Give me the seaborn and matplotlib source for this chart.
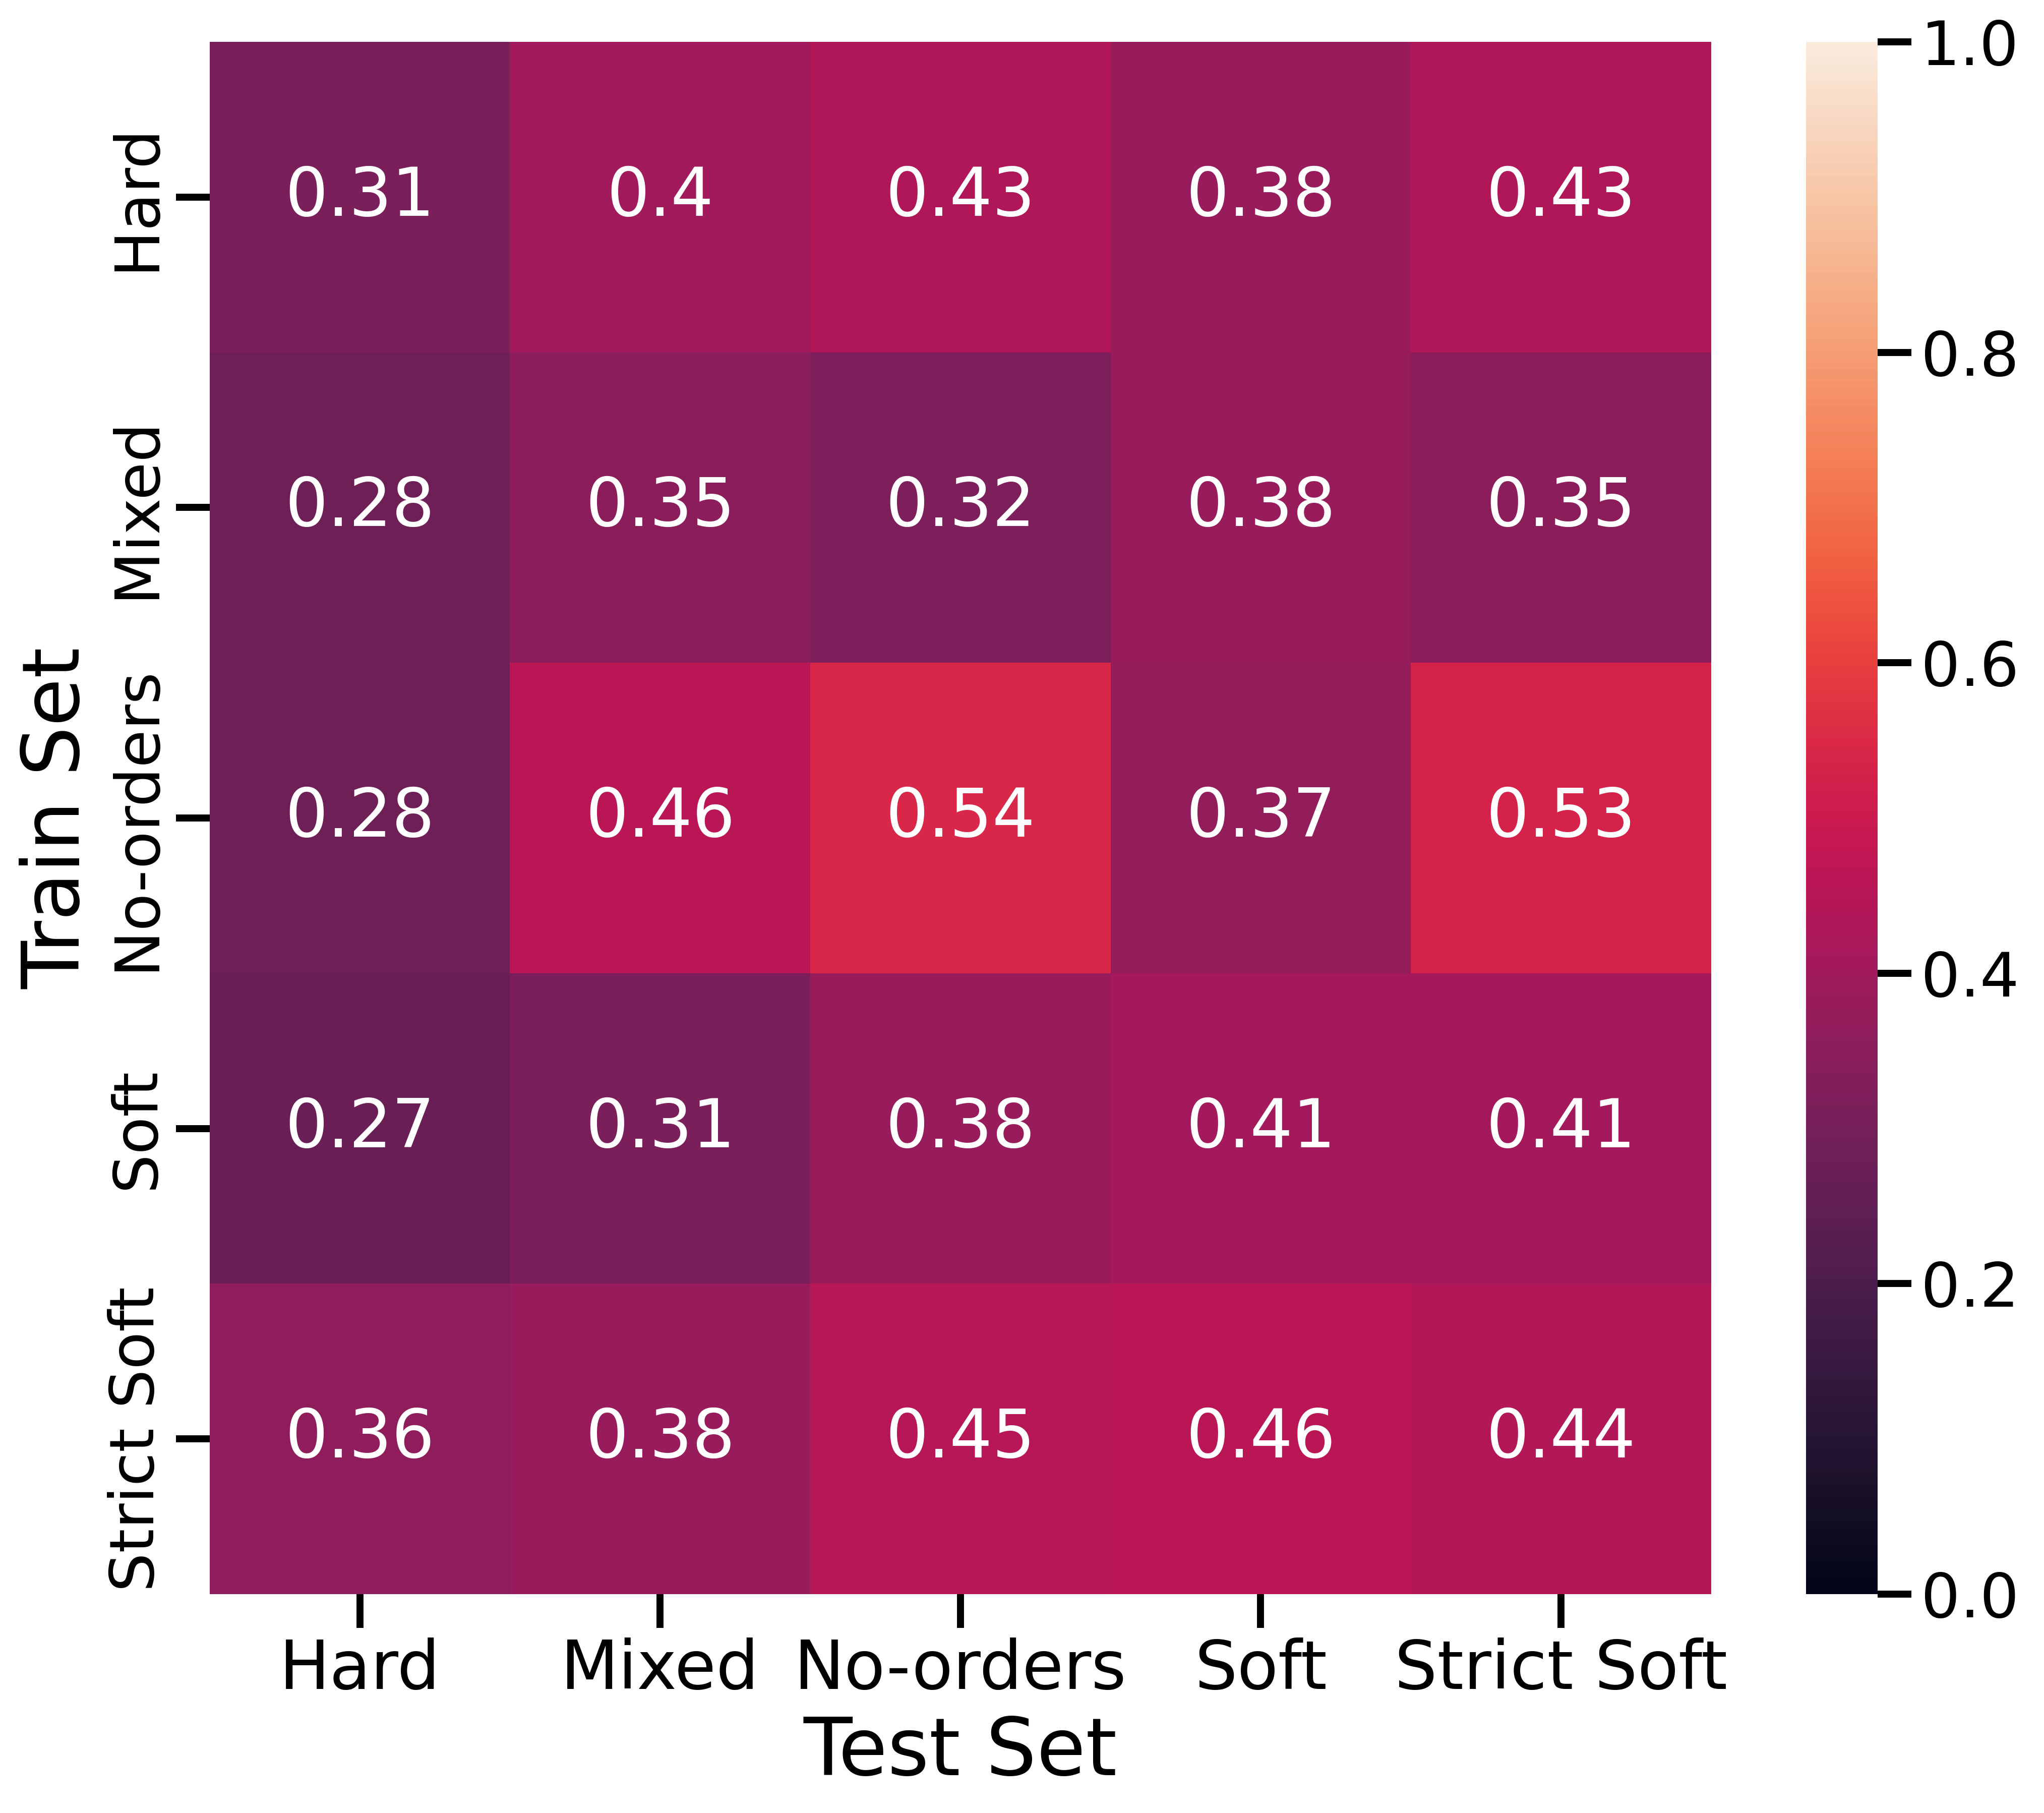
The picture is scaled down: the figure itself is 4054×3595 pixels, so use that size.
import matplotlib
matplotlib.use("Agg")
import matplotlib.pyplot as plt
import seaborn as sns
import pandas as pd
import numpy as np

# Train / test split labels and accuracy values
train_sets = ['Hard', 'Mixed', 'No-orders', 'Soft', 'Strict Soft']
test_sets = ['Hard', 'Mixed', 'No-orders', 'Soft', 'Strict Soft']

hard_row = [0.31, 0.40, 0.43, 0.38, 0.43]
mixed_row = [0.28, 0.35, 0.32, 0.38, 0.35]
noorders_row = [0.28, 0.46, 0.54, 0.37, 0.53]
soft_row = [0.27, 0.31, 0.38, 0.41, 0.41]
strict_soft_row = [0.36, 0.38, 0.45, 0.46, 0.44]

df = pd.DataFrame([hard_row, mixed_row, noorders_row, soft_row, strict_soft_row],
                  index=train_sets, columns=test_sets)

sns.set_context("poster")

fig = plt.figure(figsize=(4054 / 400, 3595 / 400))
ax = fig.add_axes([0.1026, 0.1207, 0.7345, 0.8562])
cax = fig.add_axes([0.8835, 0.1207, 0.035, 0.8562])

sns.heatmap(df, annot=True, vmin=0, vmax=1, ax=ax, cbar_ax=cax,
            annot_kws={'fontsize': 24})
ax.set_xlabel('Test Set', fontsize=28.5)
ax.set_ylabel('Train Set', fontsize=28)
ax.tick_params(axis='x', labelsize=24)
ax.tick_params(axis='y', labelsize=22)
cax.tick_params(labelsize=22)

fig.savefig('out.png', dpi=400)
